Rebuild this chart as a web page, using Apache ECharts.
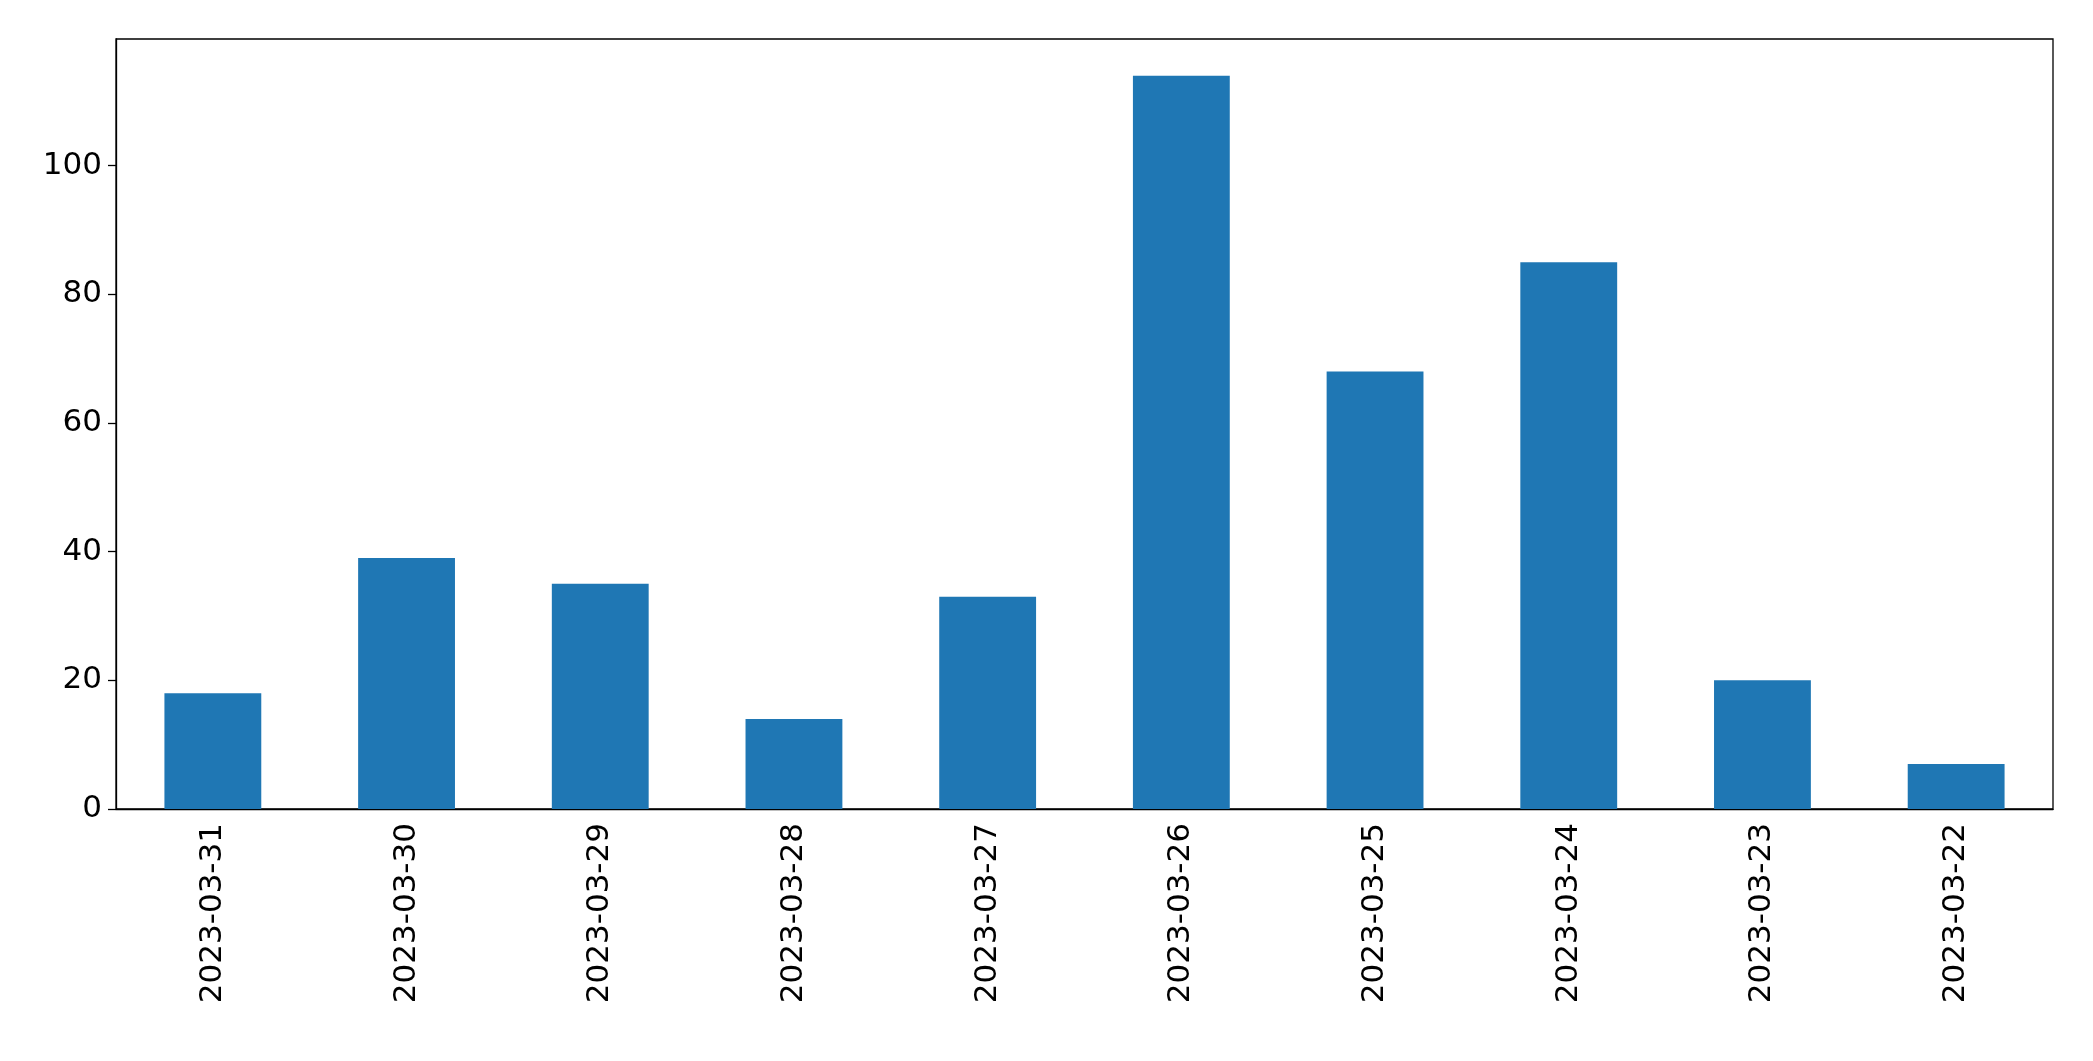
<!DOCTYPE html>
<html><head><meta charset="utf-8">
<script src="https://cdn.jsdelivr.net/npm/echarts@6/dist/echarts.min.js"></script>
<style>html,body{margin:0;padding:0;background:#fff}#c{width:2093px;height:1061px}</style>
</head><body><div id="c"></div>
<script>
const categories = ["2023-03-31","2023-03-30","2023-03-29","2023-03-28","2023-03-27","2023-03-26","2023-03-25","2023-03-24","2023-03-23","2023-03-22"];
const values = [18, 39, 35, 14, 33, 114, 68, 85, 20, 7];
const chart = echarts.init(document.getElementById('c'));
const font = {fontFamily:'DejaVu Sans', fontSize:31, color:'#000'};
chart.setOption({
  animation:false,
  grid:{left:116, right:40, top:39, bottom:252, show:true, borderColor:'#000', borderWidth:1.3, backgroundColor:'#fff'},
  xAxis:{type:'category', data:categories,
    axisLine:{lineStyle:{color:'#000', width:1.3}},
    axisTick:{alignWithLabel:true, length:8, lineStyle:{color:'#000', width:1.3}},
    axisLabel:Object.assign({rotate:90, margin:14, interval:0}, font)},
  yAxis:{type:'value', min:0, max:119.7, interval:20,
    splitLine:{show:false},
    axisLine:{show:true, lineStyle:{color:'#000', width:1.3}},
    axisTick:{show:true, length:8, lineStyle:{color:'#000', width:1.3}},
    axisLabel:Object.assign({margin:14, showMaxLabel:false}, font)},
  series:[{type:'bar', data:values, barWidth:'50%', itemStyle:{color:'#1f77b4'}}]
});
</script></body></html>
